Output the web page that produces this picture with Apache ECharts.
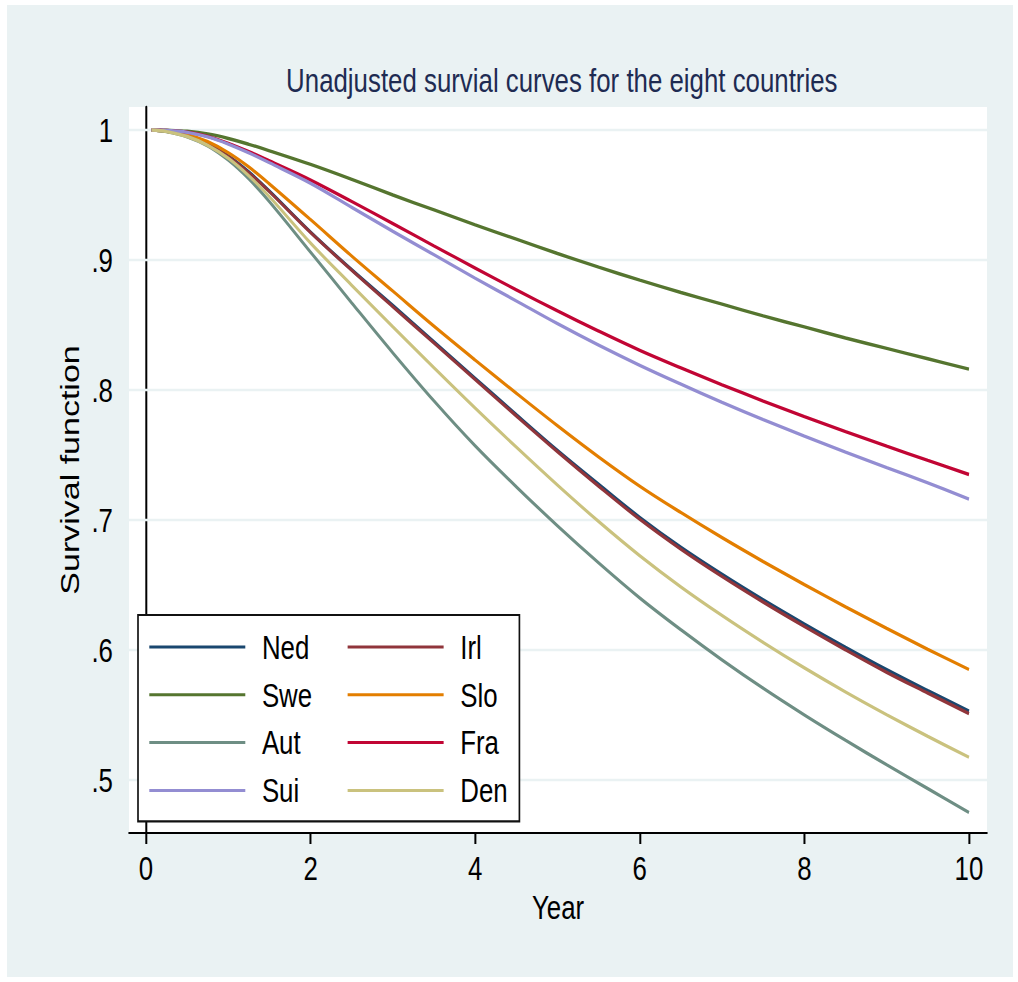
<!DOCTYPE html>
<html>
<head>
<meta charset="utf-8">
<script src="https://cdn.jsdelivr.net/npm/echarts@6/dist/echarts.min.js"></script>
<style>
html,body{margin:0;padding:0;background:#ffffff;overflow:hidden;width:1018px;height:982px;}
#chart{position:absolute;left:0;top:0;height:982px;transform-origin:0 0;}
</style>
</head>
<body>
<div id="chart"></div>
<script>
// ---- data ----
const years = [0.07, 0.25, 0.5, 0.75, 1, 1.25, 1.5, 2, 2.5, 3, 3.5, 4, 4.5, 5, 5.5, 6, 6.5, 7, 7.5, 8, 8.5, 9, 9.5, 10];

const ned = [1, 0.999, 0.9957, 0.9893, 0.980, 0.9677, 0.953, 0.9215, 0.8925, 0.865, 0.837, 0.809, 0.781, 0.7535, 0.7275, 0.702, 0.679, 0.6582, 0.6386, 0.620, 0.6021, 0.5849, 0.5687, 0.553];
const irl = [1, 0.999, 0.9955, 0.989, 0.9795, 0.967, 0.9525, 0.921, 0.892, 0.864, 0.836, 0.808, 0.780, 0.7525, 0.726, 0.7005, 0.6775, 0.6565, 0.6368, 0.6181, 0.6001, 0.5828, 0.5668, 0.551];
const swe = [1, 0.9998, 0.999, 0.997, 0.9935, 0.989, 0.984, 0.9735, 0.962, 0.950, 0.9385, 0.927, 0.916, 0.905, 0.8945, 0.8845, 0.875, 0.866, 0.857, 0.8485, 0.840, 0.832, 0.824, 0.816];
const slo = [1, 0.9992, 0.9965, 0.991, 0.9825, 0.9715, 0.9585, 0.931, 0.903, 0.876, 0.849, 0.823, 0.7975, 0.7725, 0.7485, 0.726, 0.7057, 0.6864, 0.668, 0.6503, 0.6332, 0.6166, 0.6005, 0.585];
const aut = [1, 0.9988, 0.9948, 0.9878, 0.9768, 0.9623, 0.9448, 0.906, 0.867, 0.8285, 0.7915, 0.757, 0.7255, 0.6955, 0.667, 0.640, 0.6155, 0.5923, 0.5705, 0.550, 0.5305, 0.5117, 0.4933, 0.475];
const fra = [1, 0.9997, 0.9984, 0.9951, 0.9898, 0.9834, 0.9762, 0.9615, 0.945, 0.928, 0.9108, 0.8938, 0.877, 0.8608, 0.8453, 0.8305, 0.817, 0.804, 0.7915, 0.7795, 0.768, 0.7568, 0.7458, 0.735];
const sui = [1, 0.9997, 0.9982, 0.9947, 0.9892, 0.9824, 0.9748, 0.959, 0.9405, 0.922, 0.904, 0.886, 0.8685, 0.851, 0.8345, 0.819, 0.8045, 0.7905, 0.7772, 0.7645, 0.7522, 0.7403, 0.7285, 0.716];
const den = [1, 0.9988, 0.995, 0.9882, 0.9782, 0.9647, 0.9487, 0.913, 0.8805, 0.8485, 0.817, 0.786, 0.756, 0.7268, 0.6988, 0.6725, 0.6485, 0.6265, 0.6058, 0.5862, 0.5677, 0.5502, 0.5335, 0.5175];

const countries = ['Ned', 'Irl', 'Swe', 'Slo', 'Aut', 'Fra', 'Sui', 'Den'];
const legendOrder = ['Ned', 'Swe', 'Aut', 'Sui', 'Irl', 'Slo', 'Fra', 'Den'];

const xTicks = [0, 2, 4, 6, 8, 10];
const xTickLabels = ['0', '2', '4', '6', '8', '10'];
const yTicks = [0.5, 0.6, 0.7, 0.8, 0.9, 1];
const yTickLabels = ['.5', '.6', '.7', '.8', '.9', '1'];

const titleText = 'Unadjusted survial curves for the eight countries';
const xTitle = 'Year';
const yTitle = 'Survival function';

// ---- styling ----
// The reference uses a condensed face; the whole drawing is narrowed horizontally.
const SX = 0.76;
const X = px => px / SX;           // screen px -> drawing px (horizontal only)
const FONT = "'Liberation Sans',Arial,sans-serif";
const FS = 34;
const colors = {
  Ned: '#1a476f', Irl: '#90353b', Swe: '#55752f', Slo: '#e37e00',
  Aut: '#6e8e84', Fra: '#c10534', Sui: '#938dd2', Den: '#cac27e'
};
const values = { Ned: ned, Irl: irl, Swe: swe, Slo: slo, Aut: aut, Fra: fra, Sui: sui, Den: den };

const X_MIN = -0.207, X_MAX = 10.219;
const Y_MIN = 0.4592, Y_MAX = 1.0177;

function pair(xs, ys) { return xs.map((x, i) => [x, ys[i]]); }
function labelFor(ticks, labels, v) {
  let best = 0;
  ticks.forEach((t, i) => { if (Math.abs(t - v) < Math.abs(ticks[best] - v)) best = i; });
  return labels[best];
}

const el = document.getElementById('chart');
el.style.width = (1018 / SX) + 'px';
el.style.transform = 'scaleX(' + SX + ')';

const gridSeries = yTicks.map(v => ({
  type: 'line',
  name: 'grid' + v,
  data: [[X_MIN, v], [X_MAX, v]],
  symbol: 'none',
  silent: true,
  z: 1,
  lineStyle: { color: '#eaf2f3', width: 2.5 }
}));

const curveSeries = countries.map((c, i) => ({
  type: 'line',
  name: c,
  data: pair(years, values[c]),
  symbol: 'none',
  smooth: 0.35,
  z: 2 + i,
  color: colors[c],
  lineStyle: { color: colors[c], width: 3.4 }
}));

const legendData = legendOrder.map((c, i) => ({
  name: c,
  textStyle: { width: i < 4 ? 99 : 63 }
}));

const chart = echarts.init(el, null, { renderer: 'svg' });
chart.setOption({
  animation: false,
  backgroundColor: '#ffffff',
  graphic: [{
    type: 'rect', z: -10, silent: true,
    shape: { x: X(7), y: 5, width: X(1006), height: 972 },
    style: { fill: '#eaf2f3' }
  }],
  title: {
    text: titleText,
    left: X(558),
    textAlign: 'center',
    top: 58,
    textStyle: { fontFamily: FONT, fontSize: FS, fontWeight: 'normal', color: '#1e2b52', lineHeight: 34 }
  },
  legend: {
    orient: 'vertical',
    left: X(138),
    top: 615,
    height: 200,
    itemGap: 13.8,
    itemWidth: X(96),
    itemHeight: 3,
    icon: 'rect',
    padding: [15, X(11.3), 14, X(11.3)],
    backgroundColor: '#ffffff',
    borderColor: '#111111',
    borderWidth: 2.2,
    borderRadius: 0,
    data: legendData,
    textStyle: {
      fontFamily: FONT, fontSize: FS, color: '#000000', lineHeight: 32,
      padding: [0, 0, 0, X(16.6) - 5], backgroundColor: 'transparent'
    }
  },
  grid: {
    left: X(129), top: 107, width: X(858), height: 726,
    show: true, backgroundColor: '#ffffff', borderWidth: 0
  },
  xAxis: {
    type: 'value',
    min: X_MIN, max: X_MAX,
    name: xTitle,
    nameLocation: 'middle',
    nameGap: 55,
    nameTextStyle: { fontFamily: FONT, fontSize: FS, color: '#000000', lineHeight: 34 },
    axisLine: { show: true, onZero: false, lineStyle: { color: '#000000', width: 2 } },
    axisTick: { show: true, length: 11, lineStyle: { color: '#000000', width: X(2) }, customValues: xTicks },
    axisLabel: {
      show: true, margin: 18, customValues: xTicks,
      fontFamily: FONT, fontSize: FS, color: '#000000', lineHeight: 34,
      formatter: v => labelFor(xTicks, xTickLabels, v)
    },
    splitLine: { show: false }
  },
  yAxis: {
    type: 'value',
    min: Y_MIN, max: Y_MAX,
    name: yTitle,
    nameLocation: 'middle',
    nameGap: X(45),
    nameRotate: 90,
    nameTextStyle: { fontFamily: FONT, fontSize: FS, color: '#000000', lineHeight: 34 },
    axisLine: { show: true, lineStyle: { color: '#000000', width: X(2) } },
    axisTick: { show: true, length: X(10), lineStyle: { color: '#000000', width: 2 }, customValues: yTicks },
    axisLabel: {
      show: true, margin: X(16), customValues: yTicks,
      fontFamily: FONT, fontSize: FS, color: '#000000', lineHeight: 34,
      formatter: v => labelFor(yTicks, yTickLabels, v)
    },
    splitLine: { show: false }
  },
  series: gridSeries.concat(curveSeries)
});
</script>
</body>
</html>
